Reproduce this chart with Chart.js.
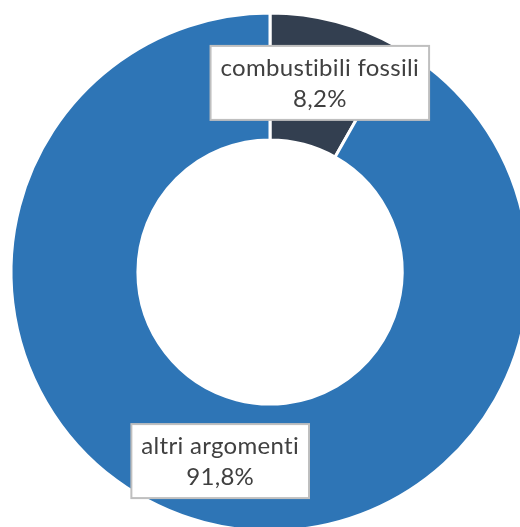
<!DOCTYPE html>
<html>
<head>
<meta charset="utf-8">
<script src="https://cdn.jsdelivr.net/npm/chart.js@4"></script>
<style>
  html, body { margin: 0; padding: 0; background: #fff; overflow: hidden; }
  #wrap { position: absolute; left: 0; top: 0; width: 540px; height: 544px; }
</style>
</head>
<body>
<div id="wrap"><canvas id="pie"></canvas></div>
<script>
const categories = ['combustibili fossili', 'altri argomenti'];
const shares = [8.2, 91.8];
const sliceColors = ['#333f50', '#2e75b6'];

const fmtPct = v => v.toFixed(1).replace('.', ',') + '%';

// label boxes drawn on top of each slice (at the slice centroid)
const boxLabels = {
  id: 'boxLabels',
  afterDatasetsDraw(chart) {
    const { ctx } = chart;
    const meta = chart.getDatasetMeta(0);
    ctx.save();
    ctx.font = '24px Lato, "Open Sans", sans-serif';
    ctx.letterSpacing = '0.3px'; // also stops Lato's "ti" ligature
    ctx.textAlign = 'center';
    ctx.textBaseline = 'middle';
    meta.data.forEach((arc, i) => {
      const { x, y } = arc.tooltipPosition();
      const lines = [categories[i], fmtPct(shares[i])];
      const w = Math.max(...lines.map(l => ctx.measureText(l).width)) + 20;
      const h = 74;
      ctx.fillStyle = '#fff';
      ctx.fillRect(x - w / 2, y - h / 2, w, h);
      ctx.strokeStyle = '#bfbfbf';
      ctx.lineWidth = 2;
      ctx.strokeRect(x - w / 2, y - h / 2, w, h);
      ctx.fillStyle = '#404040';
      ctx.fillText(lines[0], x, y - 15);
      ctx.fillText(lines[1], x, y + 16);
    });
    ctx.restore();
  }
};

new Chart(document.getElementById('pie'), {
  type: 'doughnut',
  data: {
    labels: categories,
    datasets: [{
      data: shares,
      backgroundColor: sliceColors,
      borderColor: '#fff',
      borderWidth: 3,
    }],
  },
  options: {
    responsive: true,
    maintainAspectRatio: false,
    animation: false,
    radius: 259,
    cutout: '51%',
    layout: { padding: 0 },
    plugins: {
      legend: { display: false },
      tooltip: { enabled: false },
    },
  },
  plugins: [boxLabels],
});
</script>
</body>
</html>
